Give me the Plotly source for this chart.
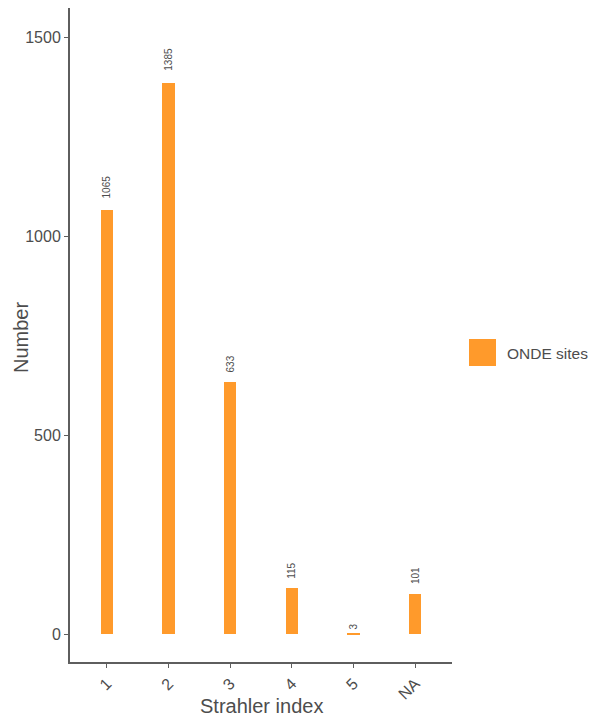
import plotly.graph_objects as go

# Data
categories = ["1", "2", "3", "4", "5", "NA"]
counts = [1065, 1385, 633, 115, 3, 101]
series_name = "ONDE sites"

bar_color = "#FF9A2B"
txt_grey = "#4D4D4D"
axis_grey = "#5E5E5E"

# figure is drawn inside the page body (8px default margin)
W, H = 588, 711
L, R, T, B = 62, 144, 0, 57
pw, ph = W - L - R, H - T - B


def px_x(x):
    return (x - 8 - L) / pw


def px_y(y):
    return (H - B - (y - 8)) / ph


fig = go.Figure()

fig.add_trace(go.Bar(
    x=categories,
    y=counts,
    name=series_name,
    marker=dict(color=bar_color, line=dict(width=0)),
    width=0.2,
    showlegend=False,
))

# value labels above the bars; offset grows with label length (like hjust=-0.5)
for i, v in enumerate(counts):
    fig.add_annotation(
        x=i, y=v, text=str(v), textangle=-90,
        showarrow=False, xanchor="center", yanchor="bottom",
        yshift=2.8 * len(str(v)) - 1, font=dict(size=10, color=txt_grey),
    )

# legend drawn by hand (ggplot style large key)
fig.add_shape(
    type="rect", xref="paper", yref="paper",
    x0=px_x(469), x1=px_x(496), y0=px_y(366), y1=px_y(339),
    fillcolor=bar_color, line=dict(width=0),
)
fig.add_annotation(
    xref="paper", yref="paper", x=px_x(505), y=px_y(353),
    text=series_name, showarrow=False, xanchor="left", yanchor="middle",
    font=dict(size=15.5, color=txt_grey),
)

# axis titles
fig.add_annotation(
    xref="paper", yref="paper", x=px_x(261), y=px_y(706),
    text="Strahler index", showarrow=False, xanchor="center", yanchor="middle",
    font=dict(size=20, color=txt_grey),
)
fig.add_annotation(
    xref="paper", yref="paper", x=px_x(8), y=px_y(338),
    text="Number", showarrow=False, xanchor="left", yanchor="middle",
    textangle=-90, font=dict(size=20, color=txt_grey),
)

fig.update_layout(
    width=W, height=H,
    margin=dict(l=L, r=R, t=T, b=B),
    plot_bgcolor="white", paper_bgcolor="white",
    font=dict(family="Liberation Sans, Arial, sans-serif", color=txt_grey),
    bargap=0,
    xaxis=dict(
        type="category", automargin=False,
        range=[-0.6, 5.6],
        showline=True, linecolor=axis_grey, linewidth=2,
        ticks="outside", ticklen=4, tickcolor=axis_grey, tickwidth=1,
        tickangle=-45, tickfont=dict(size=16, color=txt_grey),
        showgrid=False, zeroline=False,
    ),
    yaxis=dict(
        automargin=False,
        range=[-70, 1573],
        tickvals=[0, 500, 1000, 1500],
        showline=True, linecolor=axis_grey, linewidth=2,
        ticks="outside", ticklen=4, tickcolor=axis_grey, tickwidth=1,
        tickfont=dict(size=16, color=txt_grey),
        showgrid=False, zeroline=False,
    ),
)

fig.write_html("out.html")
